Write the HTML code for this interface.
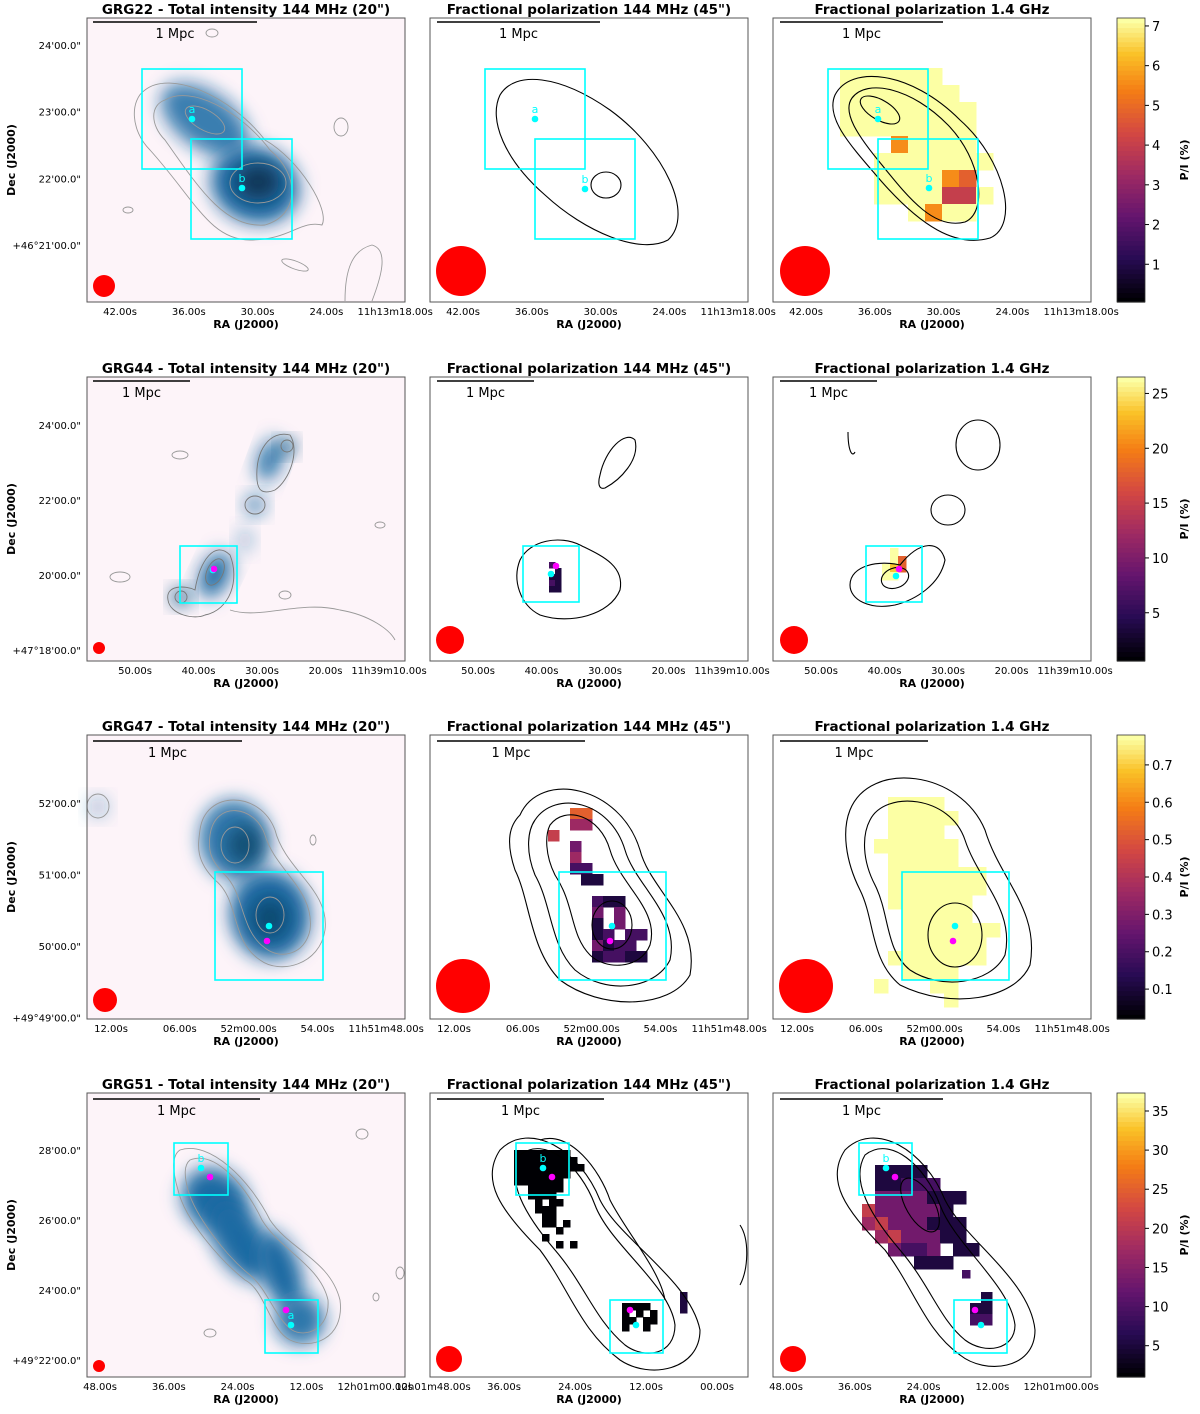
<!DOCTYPE html>
<html><head><meta charset="utf-8"><style>
body{margin:0;background:#fff;width:1200px;height:1414px;overflow:hidden}
svg{display:block;font-family:"DejaVu Sans","Liberation Sans",sans-serif}
</style></head><body>
<svg id="fig" width="1200" height="1414" viewBox="0 0 1200 1414">
<defs>
<filter id="blur" x="-50%" y="-50%" width="200%" height="200%"><feGaussianBlur stdDeviation="9"/></filter>
</defs>
</svg>
<script>
const NS="http://www.w3.org/2000/svg";
const svg=document.getElementById('fig');
function el(tag,attrs,parent,text){const e=document.createElementNS(NS,tag);for(const k in attrs)e.setAttribute(k,attrs[k]);if(text!==undefined)e.textContent=text;(parent||svg).appendChild(e);return e;}

// ---- data ----
const sourceNames=["GRG22","GRG44","GRG47","GRG51"];
const cbTicks1=[1,2,3,4,5,6,7]; const cbRange1=[0.05,7.2];
const cbTicks2=[5,10,15,20,25]; const cbRange2=[0.6,26.5];
const cbTicks3=[0.1,0.2,0.3,0.4,0.5,0.6,0.7]; const cbRange3=[0.02,0.78];
const cbTicks4=[5,10,15,20,25,30,35]; const cbRange4=[1,37.3];
const yTicks1=["24'00.0\"","23'00.0\"","22'00.0\"","+46°21'00.0\""];
const yTicks2=["24'00.0\"","22'00.0\"","20'00.0\"","+47°18'00.0\""];
const yTicks3=["52'00.0\"","51'00.0\"","50'00.0\"","+49°49'00.0\""];
const yTicks4=["28'00.0\"","26'00.0\"","24'00.0\"","+49°22'00.0\""];
const xTicks1=["42.00s","36.00s","30.00s","24.00s","11h13m18.00s"];
const xTicks2=["50.00s","40.00s","30.00s","20.00s","11h39m10.00s"];
const xTicks3=["12.00s","06.00s","52m00.00s","54.00s","11h51m48.00s"];
const xTicks4a=["48.00s","36.00s","24.00s","12.00s","12h01m00.00s"];
const xTicks4b=["12h01m48.00s","36.00s","24.00s","12.00s","00.00s"];

// polarization pixel maps (char digit = value level 0-9 fraction of colour range)
const pol1c=["999999...","9999999..","99999999.","99999999.","...79999.","..9999999","..999976.","..9999559","....9799."];
const pol2b=["2.",".1","11","21","11"];
const pol2c=[".9",".96","986","99"];
const pol3b=["..66","..44","5","..3.","..4","..22","...11","...","....211","....3.3","....1.3.","....12.22","....3122.","....12211"];
const pol3c=["..9999","..99999","..9999",".999999","..99999","..9999999","..9999999","..999999","...99999","...9999999","...999999","..9999999","...9999",".9...99.","......9"];
const pol4b=["00000000","000000000","0000000000","00000000.","0000000","..00000","..0000","...0.00","...000","....00","....00.0","......0","....0..","......0.0"];
const pol4c=[".1111",".11222",".3333111","5333331","45333111",".4533311","..3223.11","....111"];

const cols=[87,430,773]; const pw=318;
const rowsY=[18,377,735,1093]; const ph=284;

// inferno-ish colormap
const stops=[[0,0,0,4],[0.15,40,11,84],[0.3,101,21,110],[0.45,159,42,99],[0.6,212,72,66],[0.75,245,125,21],[0.88,250,193,39],[1,252,255,164]];
function cmap(t){t=Math.max(0,Math.min(1,t));for(let i=1;i<stops.length;i++){if(t<=stops[i][0]){const a=stops[i-1],b=stops[i];const f=(t-a[0])/(b[0]-a[0]);return `rgb(${Math.round(a[1]+f*(b[1]-a[1]))},${Math.round(a[2]+f*(b[2]-a[2]))},${Math.round(a[3]+f*(b[3]-a[3]))})`;}}return 'rgb(252,255,164)';}

// ---- helpers ----
function frame(x,y,name){const r=el('rect',{x:x,y:y,width:pw,height:ph,fill:'none',stroke:'#555','stroke-width':1});}
function title(x,y,t,name){const e=el('text',{x:x+pw/2,y:y-4,'text-anchor':'middle','font-size':13.5,'font-weight':'bold'},svg,t);}
function scalebar(x1,x2,y,name){const g=el('g',{});el('line',{x1:x1,x2:x2,y1:y,y2:y,stroke:'#000','stroke-width':1.6},g);el('text',{x:(x1+x2)/2,y:y+16,'text-anchor':'middle','font-size':13},g,'1 Mpc');}
function beam(cx,cy,r){const c=el('circle',{cx:cx,cy:cy,r:r,fill:'#ff0000'});}
function box(x1,y1,x2,y2){const b=el('rect',{x:x1,y:y1,width:x2-x1,height:y2-y1,fill:'none',stroke:'#00ffff','stroke-width':1.6});}
function dot(cx,cy,color,label){const c=el('circle',{cx:cx,cy:cy,r:3.3,fill:color});if(label){const t=el('text',{x:cx,y:cy-6,'text-anchor':'middle','font-size':11,fill:'#00ffff'},svg,label);}}
function contour(d,col,name){const p=el('path',{d:d,fill:'none',stroke:col,'stroke-width':col=='#000'?1.1:0.9});}
function ell(cx,cy,rx,ry,rot,col){const e=el('ellipse',{cx:cx,cy:cy,rx:rx,ry:ry,transform:`rotate(${rot} ${cx} ${cy})`,fill:'none',stroke:col,'stroke-width':col=='#000'?1.1:0.9});}
function blob(cx,cy,rx,ry,rot,op,colr){const e=el('ellipse',{cx:cx,cy:cy,rx:rx,ry:ry,transform:`rotate(${rot} ${cx} ${cy})`,fill:colr||'#1a6aa3','fill-opacity':op,filter:'url(#blur)'});}
function pixels(map,ox,oy,cell,name){const g=el('g',{});map.forEach((row,r)=>{for(let c=0;c<row.length;c++){const ch=row[c];if(ch==='.')continue;const v=+ch/9;const p=el('rect',{x:ox+c*cell,y:oy+r*cell,width:cell+0.5,height:cell+0.5,fill:cmap(v)},g);}});}
function yAxis(x,y,labels,start,step,name){labels.forEach((l,i)=>{const yy=y+start+i*step;const t=el('text',{x:x-6,y:yy+4,'text-anchor':'end','font-size':10},svg,l);});const a=el('text',{x:15,y:y+ph/2,transform:`rotate(-90 15 ${y+ph/2})`,'text-anchor':'middle','font-size':11,'font-weight':'bold'},svg,'Dec (J2000)');}
function xAxis(x,y,labels,start,step,name){labels.forEach((l,i)=>{const xx=x+start+i*step;const t=el('text',{x:xx,y:y+ph+13,'text-anchor':'middle','font-size':10},svg,l);});const a=el('text',{x:x+pw/2,y:y+ph+26,'text-anchor':'middle','font-size':11,'font-weight':'bold'},svg,'RA (J2000)');}
function colorbar(y,ticks,range,name){const x=1117,w=28;const g=el('g',{});const n=60;for(let i=0;i<n;i++){el('rect',{x:x,y:y+ph-(i+1)*ph/n,width:w,height:ph/n+0.6,fill:cmap(i/(n-1))},g);}el('rect',{x:x,y:y,width:w,height:ph,fill:'none',stroke:'#333','stroke-width':0.8},g);ticks.forEach(v=>{const yy=y+ph-(v-range[0])/(range[1]-range[0])*ph;el('line',{x1:x+w,x2:x+w+4,y1:yy,y2:yy,stroke:'#000'},g);const t=el('text',{x:x+w+7,y:yy+5,'font-size':13},g,String(v));});const lt=el('text',{x:1188,y:y+ph/2,transform:`rotate(-90 1188 ${y+ph/2})`,'text-anchor':'middle','font-size':11,'font-weight':'bold'},g,'P/I (%)');}

const titles=["Total intensity 144 MHz (20\")","Fractional polarization 144 MHz (45\")","Fractional polarization 1.4 GHz"];
const yT=[yTicks1,yTicks2,yTicks3,yTicks4];
const yStarts=[[27,66.7],[48,75],[68,71.5],[57,70]];
const cbs=[[cbTicks1,cbRange1],[cbTicks2,cbRange2],[cbTicks3,cbRange3],[cbTicks4,cbRange4]];

// backgrounds
rowsY.forEach(y=>{const b=el('rect',{x:cols[0],y:y,width:pw,height:ph,fill:'#fdf4f9'});});

// ===== Row 1 GRG22 =====
blob(205,120,50,28,35,0.85);blob(255,185,45,38,20,1);blob(258,182,22,18,0,0.9,'#08304f');
contour("M145,90 C170,70 230,95 265,140 C300,160 330,210 322,225 C300,220 290,240 250,240 C210,240 195,200 150,150 C130,130 130,100 145,90Z",'#999');
contour("M165,100 C190,85 240,110 270,150 C300,175 300,215 265,225 C225,228 200,190 165,140 C150,125 150,105 165,100Z",'#999');
ell(205,120,22,10,30,'#999');ell(258,183,28,20,0,'#999');
ell(212,33,6,4,0,'#999');ell(128,210,5,3,0,'#999');ell(341,127,7,9,0,'#999');ell(295,265,14,4,20,'#999');
contour("M345,301 C345,270 352,250 372,245 C390,250 380,280 372,301",'#999');
box(142,69,242,169);box(191,139,292,239);dot(192,119,'#00ffff','a');dot(242,188,'#00ffff','b');
beam(104,286,11);scalebar(93,257,22,'scale-bar');
// P2
contour("M500,95 C515,70 560,75 610,110 C665,150 695,215 668,240 C640,255 585,232 545,195 C505,160 488,120 500,95Z",'#000');
ell(606,185,15,13,0,'#000');
box(485,69,585,169);box(535,139,635,239);dot(535,119,'#00ffff','a');dot(585,189,'#00ffff','b');
beam(461,271,25);scalebar(437,600,22,'scale-bar');
// P3
pixels(pol1c,840,68,17,'pol-map-grg22-1400');
contour("M835,95 C850,65 910,70 960,120 C1005,160 1020,225 990,238 C955,248 920,225 882,182 C850,145 825,118 835,95Z",'#000');
contour("M852,98 C867,78 912,88 948,125 C982,160 988,212 965,222 C935,230 910,200 882,165 C857,135 842,112 852,98Z",'#000');
ell(880,110,22,10,30,'#000');
box(828,69,928,169);box(878,139,978,239);dot(878,119,'#00ffff','a');dot(929,188,'#00ffff','b');
beam(805,271,25);scalebar(780,943,22,'scale-bar');

// ===== Row 2 GRG44 =====
blob(181,597,9,9,0,1,'#0f4f80');blob(215,575,14,24,25,1);blob(255,505,10,10,0,0.8);blob(270,460,12,22,20,0.9);blob(287,447,8,8,0,1,'#0f4f80');blob(245,540,8,12,0,0.4);
contour("M168,600 C165,585 185,585 195,590 C200,560 215,540 230,555 C240,580 230,610 205,615 C195,620 170,615 168,600Z",'#777');
contour("M257,480 C255,450 270,430 290,435 C300,450 290,480 275,490 C262,495 258,490 257,480Z",'#777');
ell(255,505,10,9,0,'#777');ell(287,446,6,6,0,'#777');ell(215,572,8,14,25,'#777');ell(181,597,6,6,0,'#777');
contour("M230,610 C260,620 300,600 340,610 C370,615 390,630 395,640",'#999');ell(120,577,10,5,0,'#999');ell(180,455,8,4,0,'#999');ell(380,525,5,3,0,'#999');ell(285,595,6,4,0,'#999');
box(180,546,237,603);dot(213,570,'#00ffff');dot(214,569,'#ff00ff');
beam(99,648,6);scalebar(93,190,381,'scale-bar');
// P2
contour("M600,475 C605,450 625,430 635,440 C640,460 620,480 605,488 C598,490 598,482 600,475Z",'#000');
contour("M520,560 C530,540 560,535 580,545 C600,555 625,565 620,590 C610,615 570,625 540,615 C520,605 512,580 520,560Z",'#000');
pixels(pol2b,549,562,6,'pol-map-grg44-144');
box(523,546,579,602);dot(551,574,'#00ffff');dot(556,566,'#ff00ff');
beam(450,640,14);scalebar(437,534,381,'scale-bar');
// P3
pixels(pol2c,882,548,8,'pol-map-grg44-1400');
ell(978,445,22,25,0,'#000');ell(948,510,17,15,0,'#000');
contour("M850,585 C850,565 880,560 900,565 C920,540 940,540 945,560 C940,585 915,600 895,605 C870,610 850,600 850,585Z",'#000');
ell(895,578,14,10,-20,'#000');contour("M848,432 C848,450 852,458 855,452",'#000');
box(866,546,922,602);dot(896,576,'#00ffff');dot(899,569,'#ff00ff');
beam(794,640,14);scalebar(780,877,381,'scale-bar');

// ===== Row 3 GRG47 =====
blob(235,840,35,40,-10,0.9);blob(270,915,40,45,-10,1);blob(245,845,18,20,0,0.6,'#08304f');blob(270,918,18,20,0,0.6,'#08304f');blob(98,807,10,10,0,0.4);
contour("M200,830 C205,790 260,790 275,830 C285,870 330,890 325,930 C320,965 280,975 260,960 C230,940 240,900 215,880 C195,860 198,845 200,830Z",'#999');
contour("M210,835 C215,800 255,805 265,835 C275,870 315,890 310,930 C305,955 280,960 265,948 C240,930 245,895 225,875 C210,860 208,850 210,835Z",'#999');
ell(235,845,14,18,0,'#999');ell(270,915,14,18,0,'#999');ell(98,806,11,12,0,'#999');ell(313,840,3,5,0,'#999');
box(215,872,323,980);dot(269,926,'#00ffff');dot(267,941,'#ff00ff');
beam(105,1000,12);scalebar(93,242,741,'scale-bar');
// P2
pixels(pol3b,548,808,11,'pol-map-grg47-144');
contour("M520,815 C540,770 620,785 640,850 C650,890 700,920 690,975 C670,1010 600,1010 560,980 C530,950 530,900 515,870 C505,840 510,825 520,815Z",'#000');
contour("M535,820 C555,790 610,800 625,850 C635,885 680,915 670,960 C655,990 605,995 575,970 C550,945 552,905 535,875 C525,850 528,830 535,820Z",'#000');
contour("M550,825 C565,805 600,815 610,850 C620,885 660,910 650,945 C640,970 605,970 590,955 C570,935 575,905 555,875 C545,855 545,835 550,825Z",'#000');
ell(612,925,20,24,0,'#000');
box(559,872,666,980);dot(612,926,'#00ffff');dot(610,941,'#ff00ff');
beam(463,986,27);scalebar(437,585,741,'scale-bar');
// P3
pixels(pol3c,860,797,14,'pol-map-grg47-1400');
contour("M850,810 C870,760 960,770 985,830 C1000,880 1040,910 1030,965 C1015,1000 950,1010 900,985 C870,960 875,920 860,890 C845,860 842,830 850,810Z",'#000');
contour("M870,820 C885,790 950,795 965,840 C978,880 1015,910 1005,955 C990,985 940,990 910,970 C885,950 890,915 875,885 C862,860 862,835 870,820Z",'#000');
ell(955,935,27,32,0,'#000');
box(902,872,1009,980);dot(955,926,'#00ffff');dot(953,941,'#ff00ff');
beam(806,986,27);scalebar(780,928,741,'scale-bar');

// ===== Row 4 GRG51 =====
blob(215,1200,35,30,40,1);blob(240,1240,25,45,-30,1);blob(280,1270,20,40,-20,1);blob(300,1320,25,25,0,0.9);
contour("M180,1150 C210,1140 250,1180 270,1220 C290,1250 330,1260 340,1300 C345,1340 310,1350 290,1340 C270,1330 265,1290 245,1280 C220,1260 185,1220 178,1190 C172,1170 172,1155 180,1150Z",'#999');
contour("M190,1160 C215,1150 245,1185 262,1220 C280,1250 320,1265 328,1300 C330,1330 305,1338 292,1330 C275,1318 268,1290 250,1275 C225,1255 195,1215 188,1190 C184,1175 184,1165 190,1160Z",'#999');
ell(362,1134,6,5,0,'#999');ell(210,1333,6,4,0,'#999');ell(400,1273,4,6,0,'#999');ell(376,1297,3,4,0,'#999');
box(174,1143,228,1195);box(265,1300,318,1353);dot(201,1168,'#00ffff','b');dot(210,1177,'#ff00ff');dot(291,1325,'#00ffff','a');dot(286,1310,'#ff00ff');
beam(99,1366,6);scalebar(93,260,1099,'scale-bar');
// P2
pixels(pol4b,514,1150,7,'pol-map-grg51-144-north');
pixels(["0000.","0.0.0","00.00","0..0."],622,1303,7,'pol-map-grg51-144-south');
pixels(["1","1","1"],680,1292,7,'pol-map-grg51-144-edge');
contour("M500,1150 C530,1120 580,1150 600,1200 C620,1240 690,1280 700,1330 C700,1370 650,1380 620,1360 C580,1330 570,1290 540,1250 C500,1210 480,1180 500,1150Z",'#000');
contour("M520,1155 C545,1135 580,1165 595,1205 C610,1245 670,1285 675,1325 C675,1355 645,1360 625,1345 C595,1320 585,1285 555,1250 C525,1215 505,1180 520,1155Z",'#000');
contour("M540,1140 C570,1130 600,1170 610,1200 C625,1230 660,1270 665,1300",'#000');contour("M740,1225 C750,1240 748,1270 740,1285",'#000');
box(516,1143,569,1195);box(610,1300,663,1353);dot(543,1168,'#00ffff','b');dot(552,1177,'#ff00ff');dot(636,1325,'#00ffff');dot(630,1310,'#ff00ff');
beam(449,1359,13);scalebar(437,604,1099,'scale-bar');
// P3
pixels(pol4c,862,1165,13,'pol-map-grg51-1400-north');
pixels([".1","11","22"],970,1292,11,'pol-map-grg51-1400-south');pixels(["2"],962,1270,8,'pol-map-grg51-1400-spot');
contour("M845,1150 C875,1120 925,1150 945,1200 C965,1240 1030,1280 1035,1330 C1035,1370 985,1375 960,1355 C925,1330 915,1290 885,1250 C845,1210 825,1180 845,1150Z",'#000');
contour("M865,1155 C890,1135 925,1165 940,1205 C955,1245 1010,1285 1015,1325 C1015,1350 985,1355 965,1340 C940,1320 930,1285 900,1250 C870,1215 850,1180 865,1155Z",'#000');
ell(920,1205,14,30,-30,'#000');
box(859,1143,912,1195);box(954,1300,1007,1353);dot(886,1168,'#00ffff','b');dot(895,1177,'#ff00ff');dot(981,1325,'#00ffff');dot(975,1310,'#ff00ff');
beam(793,1359,13);scalebar(780,943,1099,'scale-bar');

// frames, titles, axes, colorbars
const xTickSets=[[xTicks1,xTicks1,xTicks1],[xTicks2,xTicks2,xTicks2],[xTicks3,xTicks3,xTicks3],[xTicks4a,xTicks4b,xTicks4a]];
const xStarts=[[33,68.8],[48,63.5],[24,68.8],[13,68.8]];
rowsY.forEach((y,r)=>{
  cols.forEach((x,c)=>{
    frame(x,y,'panel-frame');
    title(x,y,(c==0?sourceNames[r]+" - ":"")+titles[c],'panel-title');
    let st=xStarts[r][0], sp=xStarts[r][1];
    if(r==3&&c==1){st=3;sp=71;}
    xAxis(x,y,xTickSets[r][c],st,sp,'x-axis');
  });
  yAxis(cols[0],y,yT[r],yStarts[r][0],yStarts[r][1],'y-axis');
  colorbar(y,cbs[r][0],cbs[r][1],'colorbar-'+sourceNames[r].toLowerCase());
});
</script>
</body></html>
